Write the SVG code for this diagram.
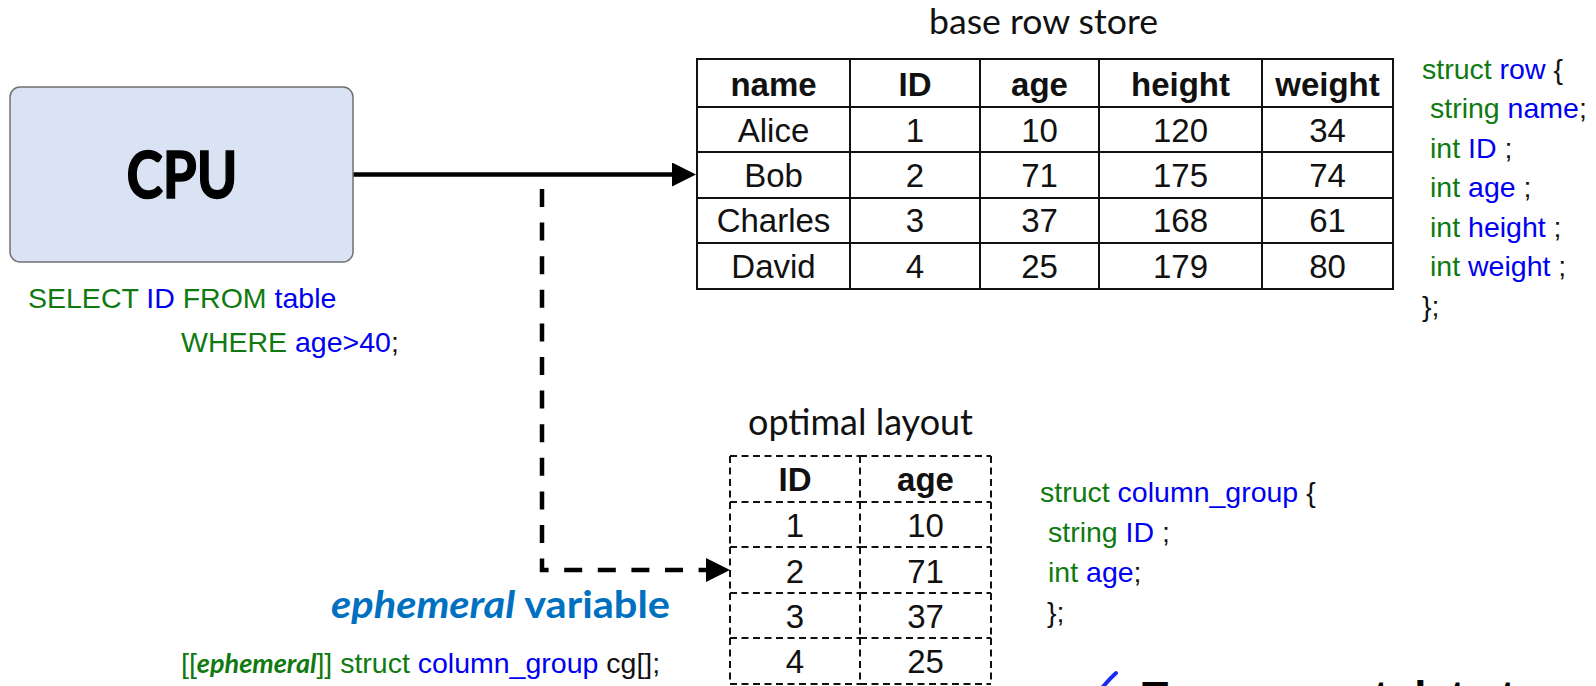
<svg xmlns="http://www.w3.org/2000/svg" width="1596" height="686" viewBox="0 0 1596 686">
  <style>
    .code { font-family: "Liberation Sans", Arial, sans-serif; font-size: 28.5px; fill: #111; }
    .kw { fill: #107a10; }
    .id { fill: #0000f0; }
    .cell { font-family: "Liberation Sans", Arial, sans-serif; font-size: 33px; fill: #111; text-anchor: middle; }
    .head { font-weight: bold; }
    .title { font-family: Lato, "Open Sans", sans-serif; font-size: 34px; fill: #111; }
    .grid { fill: none; stroke: #111; stroke-width: 2; }
    .dgrid { fill: none; stroke: #111; stroke-width: 2; stroke-dasharray: 7 4.5; }
    .link { fill: none; stroke: #000; stroke-width: 4.5; }
  </style>
  <defs>
    <marker id="arrow" markerUnits="userSpaceOnUse" markerWidth="26" markerHeight="26" refX="0" refY="12" orient="auto">
      <path d="M0,0 L24,12 L0,24 z" fill="#000"/>
    </marker>
  </defs>

  <rect width="1596" height="686" fill="#fff"/>

  <!-- connectors -->
  <g id="connectors">
    <path class="link" d="M353,174.5 H672" marker-end="url(#arrow)"/>
    <path class="link" d="M542,189 V570 H706" stroke-dasharray="18 15.6" marker-end="url(#arrow)"/>
  </g>

  <!-- processor -->
  <g id="cpu">
    <rect x="10" y="87" width="343" height="175" rx="10" fill="#dae3f3" stroke="#707070" stroke-width="1.5"/>
    <text x="182" y="198" text-anchor="middle" textLength="111" lengthAdjust="spacingAndGlyphs" font-family="Lato, 'Open Sans', sans-serif" font-weight="bold" font-size="65" fill="#000" stroke="#000" stroke-width="1.6">CPU</text>
  </g>

  <!-- query -->
  <g id="query">
    <text class="code" x="28" y="308"><tspan class="kw">SELECT</tspan><tspan class="id"> ID</tspan><tspan class="kw"> FROM</tspan><tspan class="id"> table</tspan></text>
    <text class="code" x="181" y="352"><tspan class="kw">WHERE</tspan><tspan class="id"> age&gt;40</tspan>;</text>
  </g>

  <!-- row-oriented base table -->
  <g id="base-row-store">
    <text class="title" x="929" y="34" textLength="229" lengthAdjust="spacingAndGlyphs">base row store</text>
    <rect class="grid" x="697" y="59" width="696" height="230"/>
    <path class="grid" d="M850,59 V289 M980,59 V289 M1099,59 V289 M1262,59 V289 M697,107 H1393 M697,152 H1393 M697,198 H1393 M697,243 H1393"/>
    <text class="cell head" x="773.5" y="96">name</text>
    <text class="cell head" x="915" y="96">ID</text>
    <text class="cell head" x="1039.5" y="96">age</text>
    <text class="cell head" x="1180.5" y="96">height</text>
    <text class="cell head" x="1327.5" y="96">weight</text>
    <text class="cell" x="773.5" y="142">Alice</text>
    <text class="cell" x="915" y="142">1</text>
    <text class="cell" x="1039.5" y="142">10</text>
    <text class="cell" x="1180.5" y="142">120</text>
    <text class="cell" x="1327.5" y="142">34</text>
    <text class="cell" x="773.5" y="187">Bob</text>
    <text class="cell" x="915" y="187">2</text>
    <text class="cell" x="1039.5" y="187">71</text>
    <text class="cell" x="1180.5" y="187">175</text>
    <text class="cell" x="1327.5" y="187">74</text>
    <text class="cell" x="773.5" y="232">Charles</text>
    <text class="cell" x="915" y="232">3</text>
    <text class="cell" x="1039.5" y="232">37</text>
    <text class="cell" x="1180.5" y="232">168</text>
    <text class="cell" x="1327.5" y="232">61</text>
    <text class="cell" x="773.5" y="278">David</text>
    <text class="cell" x="915" y="278">4</text>
    <text class="cell" x="1039.5" y="278">25</text>
    <text class="cell" x="1180.5" y="278">179</text>
    <text class="cell" x="1327.5" y="278">80</text>
  </g>

  <!-- row struct -->
  <g id="struct-row">
    <text class="code" x="1422" y="79"><tspan class="kw">struct</tspan><tspan class="id"> row</tspan> {</text>
    <text class="code" x="1430" y="118"><tspan class="kw">string</tspan><tspan class="id"> name</tspan>;</text>
    <text class="code" x="1430" y="158"><tspan class="kw">int</tspan><tspan class="id"> ID</tspan> ;</text>
    <text class="code" x="1430" y="197"><tspan class="kw">int</tspan><tspan class="id"> age</tspan> ;</text>
    <text class="code" x="1430" y="237"><tspan class="kw">int</tspan><tspan class="id"> height</tspan> ;</text>
    <text class="code" x="1430" y="276"><tspan class="kw">int</tspan><tspan class="id"> weight</tspan> ;</text>
    <text class="code" x="1422" y="316">};</text>
  </g>

  <!-- column group table -->
  <g id="optimal-layout">
    <text class="title" x="748" y="435" textLength="225" lengthAdjust="spacingAndGlyphs" style="font-size:36px">optimal layout</text>
    <path class="dgrid" d="
      M730,456 H860 M860,456 H991 M730,456 V502 M860,456 V502 M991,456 V502
      M730,502 H860 M860,502 H991 M730,502 V547 M860,502 V547 M991,502 V547
      M730,547 H860 M860,547 H991 M730,547 V593 M860,547 V593 M991,547 V593
      M730,593 H860 M860,593 H991 M730,593 V638 M860,593 V638 M991,593 V638
      M730,638 H860 M860,638 H991 M730,638 V684 M860,638 V684 M991,638 V684
      M730,684 H860 M860,684 H991"/>
    <text class="cell head" x="795" y="491">ID</text>
    <text class="cell head" x="925.5" y="491">age</text>
    <text class="cell" x="795" y="537">1</text>
    <text class="cell" x="925.5" y="537">10</text>
    <text class="cell" x="795" y="583">2</text>
    <text class="cell" x="925.5" y="583">71</text>
    <text class="cell" x="795" y="628">3</text>
    <text class="cell" x="925.5" y="628">37</text>
    <text class="cell" x="795" y="673">4</text>
    <text class="cell" x="925.5" y="673">25</text>
  </g>

  <!-- column group struct -->
  <g id="struct-column-group">
    <text class="code" x="1040" y="502"><tspan class="kw">struct</tspan><tspan class="id"> column_group</tspan> {</text>
    <text class="code" x="1048" y="542"><tspan class="kw">string</tspan><tspan class="id"> ID</tspan> ;</text>
    <text class="code" x="1048" y="582"><tspan class="kw">int</tspan><tspan class="id"> age</tspan>;</text>
    <text class="code" x="1047" y="622">};</text>
  </g>

  <!-- ephemeral declaration -->
  <g id="ephemeral">
    <text x="331" y="618" textLength="339" lengthAdjust="spacingAndGlyphs" font-family="Lato, 'Open Sans', sans-serif" font-weight="bold" font-size="38" fill="#0070c0"><tspan font-style="italic">ephemeral</tspan> variable</text>
    <text class="code" x="181" y="673"><tspan class="kw">[[</tspan><tspan class="kw" font-family="Lato, 'Open Sans', sans-serif" font-weight="bold" font-style="italic" font-size="27" fill="#0b620b">ephemeral</tspan><tspan class="kw">]] struct</tspan><tspan class="id"> column_group</tspan> cg[];</text>
  </g>

  <!-- benefit line, running off the bottom edge -->
  <g id="benefit">
    <path d="M1082,688 L1093,700 Q1104,684 1116,673" fill="none" stroke="#1a2cf0" stroke-width="4" stroke-linecap="round"/>
    <text x="1142" y="711" font-family="'Liberation Sans', Arial, sans-serif" font-weight="bold" font-size="43" fill="#000">Transparent data t</text>
  </g>
</svg>
